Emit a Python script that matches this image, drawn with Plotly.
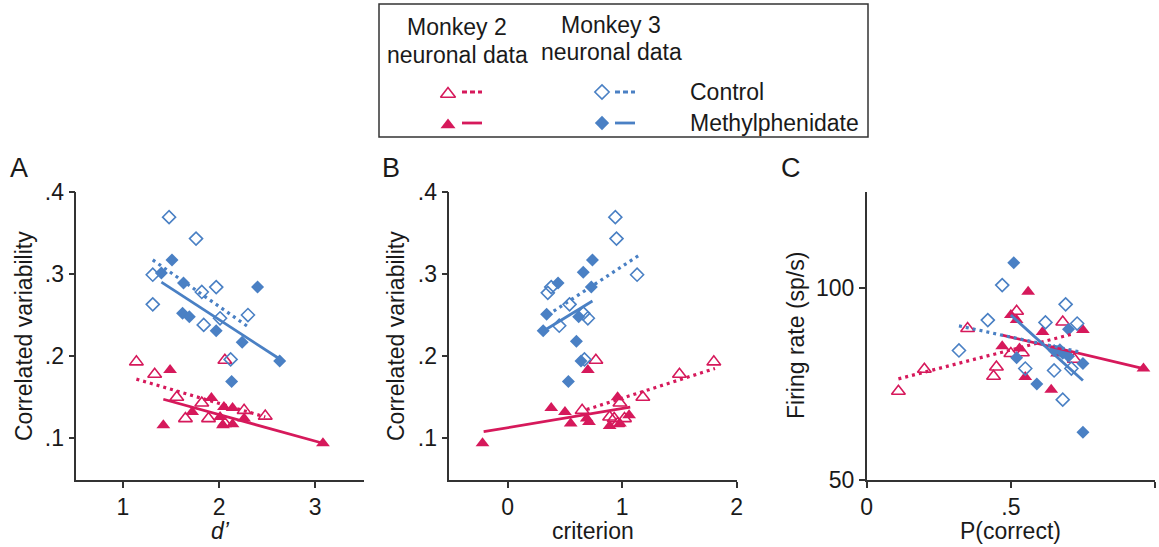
import plotly.graph_objects as go

# ---------------- data ----------------
# Panel A: correlated variability vs d'
a_m2_ctrl_x = [1.14, 1.33, 1.56, 1.82, 1.65, 1.89, 2.06, 2.06, 2.26, 2.48]
a_m2_ctrl_y = [0.193, 0.178, 0.150, 0.143, 0.124, 0.124, 0.195, 0.118, 0.134, 0.127]
a_m2_mph_x = [1.49, 1.42, 1.72, 1.92, 2.01, 2.04, 2.05, 2.14, 2.14, 2.26, 3.08]
a_m2_mph_y = [0.183, 0.116, 0.132, 0.149, 0.126, 0.116, 0.138, 0.137, 0.117, 0.124, 0.094]
a_m3_ctrl_x = [1.48, 1.76, 1.31, 1.82, 1.97, 1.31, 1.84, 2.01, 2.30, 2.12]
a_m3_ctrl_y = [0.369, 0.343, 0.299, 0.278, 0.284, 0.263, 0.238, 0.246, 0.250, 0.196]
a_m3_mph_x = [1.40, 1.51, 1.63, 1.62, 1.69, 1.97, 2.24, 2.40, 2.63, 2.13]
a_m3_mph_y = [0.301, 0.317, 0.289, 0.252, 0.248, 0.231, 0.217, 0.284, 0.194, 0.169]
a_fit_m2_ctrl_x = [1.14, 2.48]
a_fit_m2_ctrl_y = [0.172, 0.126]
a_fit_m2_mph_x = [1.42, 3.08]
a_fit_m2_mph_y = [0.1475, 0.094]
a_fit_m3_ctrl_x = [1.31, 2.31]
a_fit_m3_ctrl_y = [0.317, 0.235]
a_fit_m3_mph_x = [1.40, 2.63]
a_fit_m3_mph_y = [0.290, 0.1965]

# Panel B: correlated variability vs criterion
b_m2_ctrl_x = [0.77, 1.80, 1.50, 1.18, 0.98, 0.65, 0.89, 0.93, 1.02, 0.96]
b_m2_ctrl_y = [0.195, 0.193, 0.178, 0.150, 0.143, 0.134, 0.126, 0.124, 0.124, 0.118]
b_m2_mph_x = [-0.22, 0.38, 0.50, 0.55, 0.70, 0.69, 0.71, 0.96, 0.89, 0.98, 1.06]
b_m2_mph_y = [0.094, 0.137, 0.132, 0.118, 0.183, 0.124, 0.120, 0.150, 0.115, 0.118, 0.128]
b_m3_ctrl_x = [0.94, 0.95, 1.13, 0.35, 0.38, 0.54, 0.45, 0.70, 0.66, 0.67]
b_m3_ctrl_y = [0.369, 0.343, 0.299, 0.277, 0.284, 0.263, 0.237, 0.246, 0.252, 0.196]
b_m3_mph_x = [0.44, 0.34, 0.31, 0.66, 0.74, 0.73, 0.62, 0.60, 0.64, 0.53]
b_m3_mph_y = [0.289, 0.251, 0.231, 0.302, 0.317, 0.284, 0.248, 0.218, 0.194, 0.169]
b_fit_m2_ctrl_x = [0.69, 1.81]
b_fit_m2_ctrl_y = [0.135, 0.185]
b_fit_m2_mph_x = [-0.21, 1.07]
b_fit_m2_mph_y = [0.108, 0.138]
b_fit_m3_ctrl_x = [0.35, 1.14]
b_fit_m3_ctrl_y = [0.250, 0.322]
b_fit_m3_mph_x = [0.33, 0.74]
b_fit_m3_mph_y = [0.232, 0.267]

# Panel C: firing rate vs P(correct)
c_m2_ctrl_x = [0.11, 0.20, 0.35, 0.44, 0.45, 0.52, 0.50, 0.54, 0.68, 0.72]
c_m2_ctrl_y = [73.1, 78.8, 89.4, 77.0, 79.4, 93.9, 82.9, 83.1, 91.1, 81.4]
c_m2_mph_x = [0.50, 0.52, 0.56, 0.47, 0.53, 0.55, 0.61, 0.64, 0.75, 0.96, 0.66]
c_m2_mph_y = [92.9, 91.6, 99.0, 84.8, 84.2, 76.8, 88.5, 73.5, 89.0, 79.0, 82.9]
c_m3_ctrl_x = [0.47, 0.42, 0.32, 0.55, 0.62, 0.65, 0.69, 0.73, 0.68, 0.71]
c_m3_ctrl_y = [100.7, 91.6, 83.7, 79.0, 91.0, 78.5, 95.7, 90.7, 70.9, 79.0]
c_m3_mph_x = [0.51, 0.52, 0.59, 0.70, 0.75, 0.75, 0.65, 0.68, 0.70, 0.67]
c_m3_mph_y = [106.5, 81.8, 75.0, 89.2, 80.3, 62.4, 83.7, 83.0, 82.2, 83.9]
c_fit_m2_ctrl_x = [0.11, 0.72]
c_fit_m2_ctrl_y = [76.3, 88.1]
c_fit_m2_mph_x = [0.47, 0.96]
c_fit_m2_mph_y = [87.7, 79.0]
c_fit_m3_ctrl_x = [0.32, 0.74]
c_fit_m3_ctrl_y = [90.1, 83.3]
c_fit_m3_mph_x = [0.50, 0.75]
c_fit_m3_mph_y = [92.9, 75.9]

# tick labels
cv_tickvals = [0.1, 0.2, 0.3, 0.4]
cv_ticktext = [".1", ".2", ".3", ".4"]
a_tickvals = [1, 2, 3]
a_ticktext = ["1", "2", "3"]
b_tickvals = [0, 1, 2]
b_ticktext = ["0", "1", "2"]
c_xtickvals = [0, 0.5, 1]
c_xticktext = ["0", ".5", "1"]
c_ytickvals = [50, 100]
c_yticktext = ["50", "100"]

# ---------------- styling ----------------
RED = "#d6195b"
BLUE = "#4a80c4"
AX = "#333333"
TXT = "#1a1a1a"
FONT = "Liberation Sans, Arial, Helvetica, sans-serif"
FS = 23
W, H = 1159, 547
TRI = 12
DIA = 10

fig = go.Figure()

def add_panel(xa, ya, m2c, m2m, m3c, m3m, f2c, f2m, f3c, f3m):
    common = dict(xaxis=xa, yaxis=ya, showlegend=False, hoverinfo="skip")
    fig.add_trace(go.Scatter(x=m2c[0], y=m2c[1], mode="markers",
                             marker=dict(symbol="triangle-up-open", size=TRI, color=RED,
                                         line=dict(width=1.6, color=RED)), **common))
    fig.add_trace(go.Scatter(x=m2m[0], y=m2m[1], mode="markers",
                             marker=dict(symbol="triangle-up", size=TRI, color=RED,
                                         line=dict(width=0)), **common))
    fig.add_trace(go.Scatter(x=m3c[0], y=m3c[1], mode="markers",
                             marker=dict(symbol="diamond-open", size=DIA, color=BLUE,
                                         line=dict(width=1.6, color=BLUE)), **common))
    fig.add_trace(go.Scatter(x=m3m[0], y=m3m[1], mode="markers",
                             marker=dict(symbol="diamond", size=DIA, color=BLUE,
                                         line=dict(width=0)), **common))
    fig.add_trace(go.Scatter(x=f2c[0], y=f2c[1], mode="lines",
                             line=dict(color=RED, width=3.2, dash="3px,4px"), **common))
    fig.add_trace(go.Scatter(x=f2m[0], y=f2m[1], mode="lines",
                             line=dict(color=RED, width=2.8), **common))
    fig.add_trace(go.Scatter(x=f3c[0], y=f3c[1], mode="lines",
                             line=dict(color=BLUE, width=3.2, dash="3px,4px"), **common))
    fig.add_trace(go.Scatter(x=f3m[0], y=f3m[1], mode="lines",
                             line=dict(color=BLUE, width=2.8), **common))

add_panel("x", "y",
          (a_m2_ctrl_x, a_m2_ctrl_y), (a_m2_mph_x, a_m2_mph_y),
          (a_m3_ctrl_x, a_m3_ctrl_y), (a_m3_mph_x, a_m3_mph_y),
          (a_fit_m2_ctrl_x, a_fit_m2_ctrl_y), (a_fit_m2_mph_x, a_fit_m2_mph_y),
          (a_fit_m3_ctrl_x, a_fit_m3_ctrl_y), (a_fit_m3_mph_x, a_fit_m3_mph_y))
add_panel("x2", "y2",
          (b_m2_ctrl_x, b_m2_ctrl_y), (b_m2_mph_x, b_m2_mph_y),
          (b_m3_ctrl_x, b_m3_ctrl_y), (b_m3_mph_x, b_m3_mph_y),
          (b_fit_m2_ctrl_x, b_fit_m2_ctrl_y), (b_fit_m2_mph_x, b_fit_m2_mph_y),
          (b_fit_m3_ctrl_x, b_fit_m3_ctrl_y), (b_fit_m3_mph_x, b_fit_m3_mph_y))
add_panel("x3", "y3",
          (c_m2_ctrl_x, c_m2_ctrl_y), (c_m2_mph_x, c_m2_mph_y),
          (c_m3_ctrl_x, c_m3_ctrl_y), (c_m3_mph_x, c_m3_mph_y),
          (c_fit_m2_ctrl_x, c_fit_m2_ctrl_y), (c_fit_m2_mph_x, c_fit_m2_mph_y),
          (c_fit_m3_ctrl_x, c_fit_m3_ctrl_y), (c_fit_m3_mph_x, c_fit_m3_mph_y))

# ---------------- legend (pixel-coordinate helper axis) ----------------
lg = dict(xaxis="x4", yaxis="y4", showlegend=False, hoverinfo="skip")
leg_rows = [92, 123]
LTRI = 13
LDIA = 11
fig.add_trace(go.Scatter(x=[448], y=[leg_rows[0] + 2], mode="markers",
                         marker=dict(symbol="triangle-up-open", size=LTRI, color=RED,
                                     line=dict(width=1.6, color=RED)), **lg))
fig.add_trace(go.Scatter(x=[448], y=[leg_rows[1] + 2], mode="markers",
                         marker=dict(symbol="triangle-up", size=LTRI, color=RED), **lg))
fig.add_trace(go.Scatter(x=[602], y=[leg_rows[0]], mode="markers",
                         marker=dict(symbol="diamond-open", size=LDIA, color=BLUE,
                                     line=dict(width=1.6, color=BLUE)), **lg))
fig.add_trace(go.Scatter(x=[602], y=[leg_rows[1]], mode="markers",
                         marker=dict(symbol="diamond", size=LDIA, color=BLUE), **lg))
fig.add_trace(go.Scatter(x=[462, 482], y=[leg_rows[0]] * 2, mode="lines",
                         line=dict(color=RED, width=2.8, dash="5px,3px"), **lg))
fig.add_trace(go.Scatter(x=[462, 482], y=[leg_rows[1]] * 2, mode="lines",
                         line=dict(color=RED, width=2.8), **lg))
fig.add_trace(go.Scatter(x=[615, 635], y=[leg_rows[0]] * 2, mode="lines",
                         line=dict(color=BLUE, width=2.8, dash="5px,3px"), **lg))
fig.add_trace(go.Scatter(x=[615, 635], y=[leg_rows[1]] * 2, mode="lines",
                         line=dict(color=BLUE, width=2.8), **lg))

# ---------------- axes ----------------
def px_x(v):
    return v / W

def px_y(v):
    return 1 - v / H

top, bottom = 191.7, 480
ydom = [px_y(bottom), px_y(top)]

axis_common = dict(showline=True, linecolor=AX, linewidth=1.5, ticks="outside",
                   ticklen=6, tickwidth=1.5, tickcolor=AX, showgrid=False, zeroline=False,
                   automargin=False,
                   tickfont=dict(family=FONT, size=FS, color=TXT), fixedrange=True)

fig.update_layout(
    width=W, height=H, margin=dict(l=0, r=0, t=0, b=0, pad=0, autoexpand=False),
    paper_bgcolor="white", plot_bgcolor="rgba(0,0,0,0)",
    font=dict(family=FONT, size=FS, color=TXT),
    showlegend=False,
    xaxis=dict(domain=[px_x(76.3), px_x(364.3)], range=[0.515, 3.51], anchor="y",
               tickvals=a_tickvals, ticktext=a_ticktext, **axis_common),
    yaxis=dict(domain=ydom, range=[0.0493, 0.4], anchor="x",
               tickvals=cv_tickvals, ticktext=cv_ticktext, **axis_common),
    xaxis2=dict(domain=[px_x(449.3), px_x(737.3)], range=[-0.51, 2.005], anchor="y2",
                tickvals=b_tickvals, ticktext=b_ticktext, **axis_common),
    yaxis2=dict(domain=ydom, range=[0.0493, 0.4], anchor="x2",
                tickvals=cv_tickvals, ticktext=cv_ticktext, **axis_common),
    xaxis3=dict(domain=[px_x(866.7), px_x(1155)], range=[0, 1.0], anchor="y3",
                tickvals=c_xtickvals, ticktext=c_xticktext, **axis_common),
    yaxis3=dict(domain=ydom, range=[50, 125], anchor="x3",
                tickvals=c_ytickvals, ticktext=c_yticktext, **axis_common),
    xaxis4=dict(domain=[0, 1], range=[0, W], visible=False, fixedrange=True,
                automargin=False, anchor="y4"),
    yaxis4=dict(domain=[0, 1], range=[H, 0], visible=False, fixedrange=True,
                automargin=False, anchor="x4"),
)

# legend box
fig.add_shape(type="rect", xref="paper", yref="paper",
              x0=px_x(379), x1=px_x(868), y0=px_y(137), y1=px_y(4),
              line=dict(color=AX, width=1.5), fillcolor="rgba(0,0,0,0)", layer="above")

annotations = []

def ann(text, x, y, size=FS, angle=0, xanchor="center", italic=False):
    t = f"<i>{text}</i>" if italic else text
    annotations.append(dict(text=t, x=px_x(x), y=px_y(y), xref="paper", yref="paper",
                            showarrow=False, xanchor=xanchor, yanchor="middle",
                            textangle=angle, font=dict(family=FONT, size=size, color=TXT)))

# legend text
ann("Monkey 2", 457, 27)
ann("neuronal data", 457, 55)
ann("Monkey 3", 611, 25)
ann("neuronal data", 611, 52)
ann("Control", 688, 92, xanchor="left")
ann("Methylphenidate", 688, 123, xanchor="left")

# panel letters
ann("A", 19, 168, size=27)
ann("B", 391, 168, size=27)
ann("C", 791, 168, size=27)

# axis titles
ann("Correlated variability", 24, 336, angle=-90)
ann("Correlated variability", 396, 336, angle=-90)
ann("Firing rate (sp/s)", 796, 336, angle=-90)
ann("d’", 220, 531, italic=True)
ann("criterion", 593, 531)
ann("P(correct)", 1010, 531)

fig.update_layout(annotations=annotations)

fig.write_html("out.html")
